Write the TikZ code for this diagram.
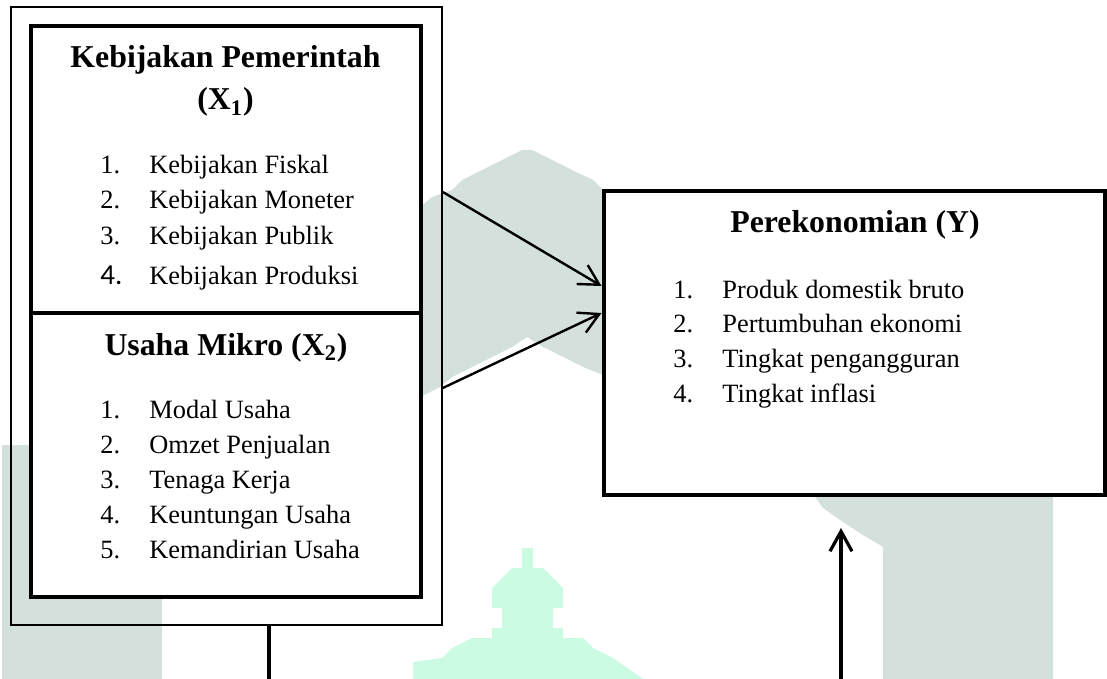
\documentclass[tikz,border=0pt]{standalone}
\usepackage{fontspec}
\setmainfont{Liberation Serif}
\newfontfamily\digitfont{Carlito}
\usetikzlibrary{arrows.meta, positioning}
\definecolor{wmgray}{HTML}{D3E0DB}
\definecolor{wmmint}{HTML}{CCFBE3}

\begin{document}
\begin{tikzpicture}[
    x=0.5pt, y=-0.5pt,
    frame/.style={rectangle, draw, line width=0.8pt, inner sep=0pt},
    box/.style={rectangle, draw, line width=2pt, fill=white, inner sep=0pt},
    head/.style={font=\fontsize{15.9}{19}\selectfont\bfseries, anchor=base, inner sep=0pt},
    item/.style={font=\fontsize{13.2}{17}\selectfont, anchor=base west, inner sep=0pt},
    arrow/.style={-{Straight Barb[length=10pt, width=11pt]}, line width=1.2pt}
]
\useasboundingbox (0,0) rectangle (1107,679);

% watermark
\fill[wmgray] (2,445) rectangle (162,679);
\fill[wmgray] (420,207) -- (432,197) -- (452,190) -- (462,180) -- (482,170) -- (502,160) -- (522,150)
    -- (532,150) -- (552,160) -- (572,170) -- (593,180) -- (603,190) -- (603,375) -- (583,367)
    -- (563,357) -- (543,347) -- (527,337) -- (512,347) -- (492,357) -- (472,367) -- (452,377)
    -- (440,387) -- (420,397) -- cycle;
\fill[wmgray] (813,494) -- (1053,494) -- (1053,679) -- (883,679) -- (883,547) -- (863,535)
    -- (843,522) -- (823,508) -- cycle;
\fill[wmmint] (522,548) -- (533,548) -- (533,568) -- (543,568) -- (553,578) -- (563,588) -- (563,608)
    -- (553,608) -- (553,628) -- (563,628) -- (563,638) -- (583,638) -- (593,648) -- (613,658)
    -- (643,679) -- (413,679) -- (413,662) -- (442,658) -- (452,648) -- (472,638) -- (492,638)
    -- (492,628) -- (502,628) -- (502,608) -- (492,608) -- (492,588) -- (502,578) -- (512,568)
    -- (522,568) -- cycle;

% boxes
\node[frame, minimum width=215.5pt, minimum height=309pt] (outer) at (226.5,316) {};
\node[box, minimum width=195pt, minimum height=143pt] (x1box) at (225.5,169.5) {};
\node[box, minimum width=195pt, minimum height=142pt] (x2box) at (225.5,454.5) {};
\node[box, minimum width=250.5pt, minimum height=151.5pt] (ybox) at (854,343) {};

% Kebijakan Pemerintah
\node[head] (x1head) at (225.5,68) {Kebijakan Pemerintah};
\node[head] (x1var) at (225.5,110) {(X\textsubscript{1})};
\node[item] (x1a) at (100,174) {\makebox[24.5pt][l]{1.}Kebijakan Fiskal};
\node[item] (x1b) at (100,209) {\makebox[24.5pt][l]{2.}Kebijakan Moneter};
\node[item] (x1c) at (100,244) {\makebox[24.5pt][l]{3.}Kebijakan Publik};
\node[item] (x1d) at (100,284) {\makebox[24.5pt][l]{\digitfont\fontsize{14.5}{17}\selectfont 4.}Kebijakan Produksi};

% Usaha Mikro
\node[head] (x2head) at (226,355) {Usaha Mikro (X\textsubscript{2})};
\node[item] (x2a) at (100,418) {\makebox[24.5pt][l]{1.}Modal Usaha};
\node[item] (x2b) at (100,453) {\makebox[24.5pt][l]{2.}Omzet Penjualan};
\node[item] (x2c) at (100,488) {\makebox[24.5pt][l]{3.}Tenaga Kerja};
\node[item] (x2d) at (100,523) {\makebox[24.5pt][l]{4.}Keuntungan Usaha};
\node[item] (x2e) at (100,558) {\makebox[24.5pt][l]{5.}Kemandirian Usaha};

% Perekonomian
\node[head] (yhead) at (855,233) {Perekonomian (Y)};
\node[item] (ya) at (673,298) {\makebox[24.5pt][l]{1.}Produk domestik bruto};
\node[item] (yb) at (673,332) {\makebox[24.5pt][l]{2.}Pertumbuhan ekonomi};
\node[item] (yc) at (673,367) {\makebox[24.5pt][l]{3.}Tingkat pengangguran};
\node[item] (yd) at (673,402) {\makebox[24.5pt][l]{4.}Tingkat inflasi};

% connectors
\coordinate (tail) at (269,679);
\coordinate (ytail) at (841,679);
\coordinate (ytip) at (841,528);

\draw[arrow] ([yshift=62pt]outer.east) -- ([yshift=28.5pt]ybox.west);
\draw[arrow] ([yshift=-36pt]outer.east) -- ([yshift=15pt]ybox.west);
\draw[line width=1.6pt] (outer.south -| tail) -- (tail);
\draw[arrow, line width=1.6pt] (ytail) -- (ytip);

\end{tikzpicture}
\end{document}
